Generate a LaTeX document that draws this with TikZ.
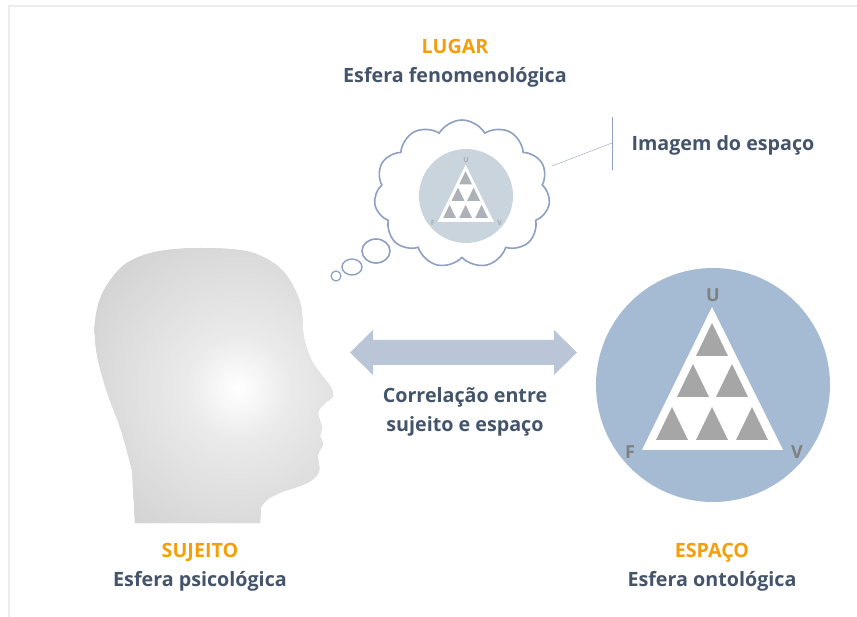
\documentclass[tikz,border=0pt]{standalone}
\usepackage{fontspec}
\setmainfont{Open Sans}
\usetikzlibrary{positioning, shapes.symbols}

\definecolor{txtblue}{RGB}{68,84,106}
\definecolor{accent}{RGB}{245,158,11}
\definecolor{spacefill}{RGB}{165,186,211}
\definecolor{imgfill}{RGB}{201,212,221}
\definecolor{cloudline}{RGB}{141,160,194}
\definecolor{arrowfill}{RGB}{186,198,216}
\definecolor{headgray}{RGB}{208,208,208}
\definecolor{tilegray}{RGB}{166,166,166}
\definecolor{framegray}{RGB}{236,236,236}

% soft light on the face
\pgfdeclareradialshading{headglow}{\pgfpoint{0bp}{0bp}}{%
  color(0bp)=(white); color(6bp)=(white!55!headgray);
  color(20bp)=(headgray!96!white); color(50bp)=(headgray)}

% triangle U-F-V, drawn around the centre of its disc
\tikzset{
  pics/pyramid/.style n args={3}{code={
    \fill[white] (-1,-78) -- (70,65) -- (-71,65) -- cycle;
    \foreach \x/\y in {-1/-62, -20/-21, 19/-21, -41/22, -1/22, 39/22}
      \fill[#1] (\x,\y) -- ++(16,33) -- ++(-32,0) -- cycle;
    \node[text=#2, font=\bfseries\fontsize{18}{18}\selectfont, #3] (-u) at (0,-90) {U};
    \node[text=#2, font=\bfseries\fontsize{18}{18}\selectfont, #3] (-f) at (-83,67) {F};
    \node[text=#2, font=\bfseries\fontsize{18}{18}\selectfont, #3] (-v) at (84,67) {V};
  }},
  caption/.style={align=center, text=txtblue,
    font=\bfseries\fontsize{19.7}{29}\selectfont}
}

\begin{document}
\begin{tikzpicture}[x=1pt, y=-1pt]
  \useasboundingbox (0,0) rectangle (857,617);
  \draw[framegray, line width=2pt] (9,617) -- (9,6) -- (857,6);

  % sujeito
  \fill[headgray, path picture={
      \shade[shading=headglow] (238,388) circle (220);}]
    (135,523) -- (260,523) -- plot[smooth, tension=0.55] coordinates {
      (261,507) (268,499) (282,492) (307,483) (319,472) (318,455) (323,444)
      (320,436) (322,427) (318,413) (324,404) (333,396) (330,386) (313,363)
      (304,338) (300,302) (282,270) (250,252) (200,248) (155,252) (124,265)
      (103,292) (95,322) (97,355) (107,392) (121,430) (132,470)}
    -- cycle;

  % espaco
  \fill[spacefill] (713,385) circle (117);
  \pic (big) at (713,385) {pyramid={tilegray}{gray}{}};

  % lugar: the thought cloud
  \node[cloud, draw=cloudline, line width=1.6pt, cloud puffs=11,
    cloud puff arc=120, cloud ignores aspect, minimum width=176pt,
    minimum height=148pt, inner sep=0pt] (thought) at (462,194) {};
  \draw[cloudline, line width=1.6pt] (376,251) ellipse (14 and 12);
  \draw[cloudline, line width=1.4pt] (352,267) ellipse (10 and 8);
  \draw[cloudline, line width=1.2pt] (336,276) ellipse (5 and 5);
  \fill[imgfill] (466,196) circle (47);
  \pic[scale=0.4, transform shape] (small) at (466,196)
    {pyramid={imgfill!60!gray}{imgfill!55!gray}{}};

  % callout for the image
  \coordinate (tip) at (552,166);
  \coordinate (bar) at (612,143);
  \draw[cloudline] (tip) -- (bar);
  \draw[cloudline] (612,117) -- (612,170);
  \node[caption, anchor=west] (image) at (628,145) {Imagem do espaço};

  % correlation arrow
  \coordinate (corr) at (463.5,352.5);
  \fill[arrowfill, shift={(corr)}] (-113.5,0) -- (-90.5,-22.5) -- (-90.5,-12.5)
    -- (90.5,-12.5) -- (90.5,-22.5) -- (113.5,0) -- (90.5,22.5) -- (90.5,12.5)
    -- (-90.5,12.5) -- (-90.5,22.5) -- cycle;
  \node[caption] (corrtxt) at (465,412) {Correlação entre\\sujeito e espaço};

  % labels
  \node[caption] (lugar) at (455,63)
    {\textcolor{accent}{LUGAR}\\Esfera fenomenológica};
  \node[caption] (sujeito) at (200,567)
    {\textcolor{accent}{SUJEITO}\\Esfera psicológica};
  \node[caption] (espaco) at (712,567)
    {\textcolor{accent}{ESPAÇO}\\Esfera ontológica};
\end{tikzpicture}
\end{document}
